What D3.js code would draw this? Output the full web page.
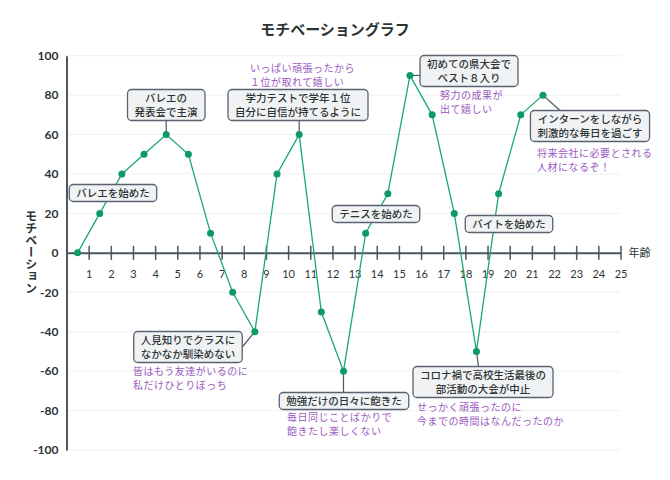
<!DOCTYPE html>
<html><head><meta charset="utf-8">
<script src="https://cdn.jsdelivr.net/npm/d3@7"></script>
<style>
body{margin:0;background:#fff;font-family:"Noto Sans CJK JP",sans-serif;}
</style></head><body>
<div id="chart"></div>
<script>
// 年齢 (0.5刻み) とモチベーション
const ages = [0.5,1.5,2.5,3.5,4.5,5.5,6.5,7.5,8.5,9.5,10.5,11.5,12.5,13.5,14.5,15.5,16.5,17.5,18.5,19.5,20.5,21.5];
const motivation = [0,20,40,50,60,50,10,-20,-40,40,60,-30,-60,10,30,90,70,20,-50,30,70,80];
const xTicks = d3.range(1, 26);
const yTicks = d3.range(-100, 101, 20);

// 出来事 (データ点のインデックス, ラベル, コメント)
const eventIdx = [1, 4, 10, 8, 12, 13, 15, 18, 19, 21];
const eventLabels = [
  ['バレエを始めた'],
  ['バレエの','発表会で主演'],
  ['学力テストで学年１位','自分に自信が持てるように'],
  ['人見知りでクラスに','なかなか馴染めない'],
  ['勉強だけの日々に飽きた'],
  ['テニスを始めた'],
  ['初めての県大会で','ベスト８入り'],
  ['コロナ禍で高校生活最後の','部活動の大会が中止'],
  ['バイトを始めた'],
  ['インターンをしながら','刺激的な毎日を過ごす']
];
const eventComments = [
  [], [],
  ['いっぱい頑張ったから','１位が取れて嬉しい'],
  ['皆はもう友達がいるのに','私だけひとりぼっち'],
  ['毎日同じことばかりで','飽きたし楽しくない'],
  [],
  ['努力の成果が','出て嬉しい'],
  ['せっかく頑張ったのに','今までの時間はなんだったのか'],
  [],
  ['将来会社に必要とされる','人材になるぞ！']
];

// レイアウト (ボックス中心のピクセル位置, コメント1行目のベースライン)
const boxPos = [[113,193],[166,105],[298,105],[188,347],[344,401],[376,214],[469,71],[483,382],[509,224],[590,126]];
const commentPos = [null,null,[250,72],[133,375],[287,421],[null],[440,99],[417,411],null,[537,157]];
const connectors = [false,true,true,true,true,false,true,true,false,true];

const W = 670, H = 480;
const margin = {top: 55.7, right: 50, bottom: 30, left: 66.5};
const width = 620.5 - margin.left, height = 450 - margin.top;

const svg = d3.select('#chart').append('svg').attr('width', W).attr('height', H);
const g = svg.append('g').attr('transform', `translate(${margin.left},${margin.top})`);

const x = d3.scaleLinear().domain([0, 25]).range([0, width]);
const y = d3.scaleLinear().domain([-100, 100]).range([height, 0]);

svg.append('text').attr('x', W/2).attr('y', 35).attr('text-anchor','middle')
  .style('font-size','15px').style('font-weight','bold').style('fill','#2d3436').text('モチベーショングラフ');

// グリッド
g.selectAll('.grid').data(yTicks).join('line')
  .attr('x1', 0).attr('x2', width).attr('y1', d => y(d)).attr('y2', d => y(d))
  .style('stroke', '#eef0f2').style('stroke-width', 1);

// y軸
const yAxis = g.append('g').call(d3.axisLeft(y).tickValues(yTicks).tickSize(0).tickPadding(8).tickFormat(d => String(d)));
yAxis.select('.domain').style('stroke','#4d5663').style('stroke-width',2);
yAxis.selectAll('text').style('font-size','12px').style('fill','#2d3436').style('font-family','Lato, sans-serif').style('font-weight','bold');

// x軸 (y=0)
const xAxis = g.append('g').attr('transform', `translate(0,${y(0)})`)
  .call(d3.axisBottom(x).tickValues(xTicks).tickSize(7).tickPadding(10).tickSizeOuter(0));
xAxis.select('.domain').style('stroke','#4d5663').style('stroke-width',2);
xAxis.selectAll('.tick line').attr('y1', -7).style('stroke','#4d5663').style('stroke-width',1.5);
xAxis.selectAll('text').style('font-size','11px').style('fill','#2d3436').style('font-family','Lato, sans-serif');
g.append('text').attr('x', width + 8).attr('y', y(0) + 4).style('font-size','11px').style('fill','#2d3436').text('年齢');

svg.append('text').attr('transform', `translate(29,${margin.top + y(0)})`)
  .attr('text-anchor','middle').style('writing-mode','vertical-rl').attr('dominant-baseline','middle')
  .style('font-size','12px').style('font-weight','bold').style('fill','#2d3436').text('モチベーション');

// 線
const pts = ages.map((a, i) => ({a, v: motivation[i]}));
g.append('path').datum(pts).attr('fill','none').attr('stroke','#1aa872').attr('stroke-width',1.3)
  .attr('d', d3.line().x(d => x(d.a)).y(d => y(d.v)));

// 注釈
const connG = svg.append('g');
const dotG = svg.append('g').attr('transform', `translate(${margin.left},${margin.top})`);
const ann = svg.append('g');
eventIdx.forEach((idx, i) => {
  const px = margin.left + x(ages[idx]), py = margin.top + y(motivation[idx]);
  const [cx, cy] = boxPos[i];
  const lines = eventLabels[i];
  const grp = ann.append('g');
  const rect = grp.append('rect');
  const t = grp.append('text').attr('text-anchor','middle').style('font-size','10.5px').style('font-weight','500').style('fill','#2d3436');
  lines.forEach((l, k) => t.append('tspan').attr('x', cx).attr('y', cy + (k - (lines.length-1)/2) * 14 + 4).text(l));
  const bb = t.node().getBBox();
  const bh = lines.length * 14 + 3;
  const bx = bb.x - 7, by = cy - bh/2, bw = bb.width + 14;
  rect.attr('x', bx).attr('y', by).attr('width', bw).attr('height', bh).attr('rx', 4)
    .style('fill','#f1f2f3').style('stroke','#5a6270').style('stroke-width',1.3);
  if (connectors[i]) {
    let tx = Math.max(bx, Math.min(bx + bw, px));
    let ty = Math.max(by, Math.min(by + bh, py));
    if (px < bx || px > bx + bw) { tx = px < bx ? bx : bx + bw; }
    if (i === 7) { tx = px + 2; ty = by; }
    if (i === 9) { tx = cx - 30; ty = by; }
    if (i === 3) { tx = bx + bw; ty = cy; }
    connG.append('line').attr('x1', px).attr('y1', py).attr('x2', tx).attr('y2', ty)
      .style('stroke','#4d5663').style('stroke-width',1.2);
  }
  const cp = commentPos[i];
  if (cp && cp[0] != null) {
    eventComments[i].forEach((c, k) => ann.append('text').attr('x', cp[0]).attr('y', cp[1] + k * 14)
      .style('font-size','10px').style('fill','#9b59c0').style('letter-spacing','0.5px').text(c));
  }
});

// 点
dotG.selectAll('circle').data(pts).join('circle')
  .attr('cx', d => x(d.a)).attr('cy', d => y(d.v)).attr('r', 3.5).style('fill','#0e9b63');
</script></body></html>
